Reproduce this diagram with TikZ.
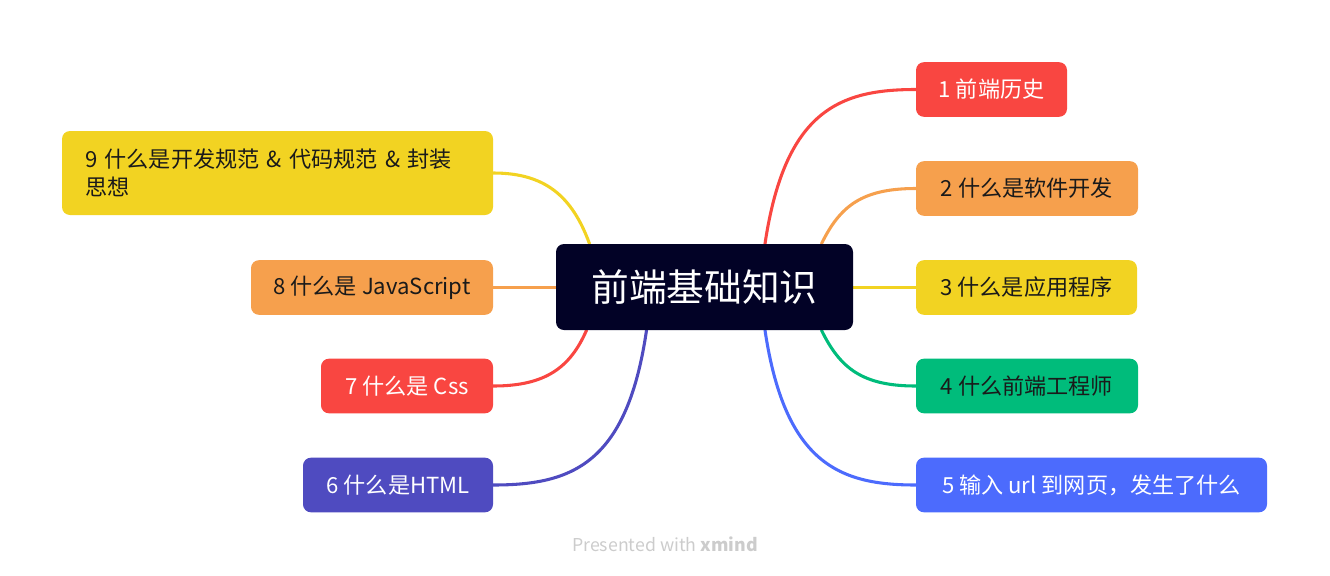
\documentclass[tikz,border=0pt]{standalone}
\usepackage{fontspec}
\setmainfont{Noto Sans CJK SC}
\usetikzlibrary{calc,backgrounds}
\definecolor{cnavy}{HTML}{020226}
\definecolor{cred}{HTML}{F94641}
\definecolor{corange}{HTML}{F6A04D}
\definecolor{cyellow}{HTML}{F2D322}
\definecolor{cgreen}{HTML}{00BC7B}
\definecolor{cblue}{HTML}{4C6BFD}
\definecolor{cindigo}{HTML}{4F4BC0}
\definecolor{cdark}{HTML}{1A1A1A}
\definecolor{cfoot}{HTML}{CCCCCC}
\begin{document}
\begin{tikzpicture}[x=0.75pt,y=-0.75pt,
  topic/.style={rectangle, rounded corners=6pt, inner sep=0pt, minimum height=41pt,
    font=\fontsize{16.6}{20}\selectfont},
  darktext/.style={text=cdark},
  lighttext/.style={text=white},
  link/.style={line width=2.3pt, line cap=round}]
\useasboundingbox (0,0) rectangle (1330,575);

% central topic
\node[rectangle, rounded corners=6pt, fill=cnavy, text=white, inner sep=0pt,
  minimum width=222.75pt, minimum height=64.5pt, font=\fontsize{28.3}{32}\selectfont]
  (c) at (704.5,287) {前端基础知识};

% right side
\node[topic, fill=cred, lighttext, minimum width=113.25pt] (t1) at (991.5,89.5) {1 前端历史};
\node[topic, fill=corange, darktext, minimum width=166.5pt] (t2) at (1027,188.5) {2 什么是软件开发};
\node[topic, fill=cyellow, darktext, minimum width=165.75pt] (t3) at (1026.5,287.5) {3 什么是应用程序};
\node[topic, fill=cgreen, darktext, minimum width=166.5pt] (t4) at (1027,386) {4 什么前端工程师};
\node[topic, fill=cblue, lighttext, minimum width=263.25pt] (t5) at (1091.5,485) {5 输入 url 到网页，发生了什么};

% left side
\node[topic, fill=cindigo, lighttext, minimum width=142.5pt] (t6) at (398,485) {6 什么是HTML};
\node[topic, fill=cred, lighttext, minimum width=129pt] (t7) at (407,386) {7 什么是 Css};
\node[topic, fill=corange, darktext, minimum width=181.5pt] (t8) at (372,287.5) {8 什么是 JavaScript};
\node[rectangle, rounded corners=6pt, fill=cyellow, darktext, inner xsep=17.25pt, inner ysep=0pt,
  text width=288.75pt, align=left, minimum height=63pt, font=\fontsize{16.6}{21}\selectfont]
  (t9) at (277.5,173) {9 什么是开发规范 \& 代码规范 \& 封装\\思想};

% connectors
\begin{scope}[on background layer]
\coordinate (s1) at ($(c.north)+(60.5,0)$);
\coordinate (s2) at ($(c.north)+(117,0)$);
\coordinate (s4) at ($(c.south)+(117,0)$);
\coordinate (s5) at ($(c.south)+(60.5,0)$);
\coordinate (s6) at ($(c.south)+(-58,0)$);
\coordinate (s7) at ($(c.south)+(-118,0)$);
\coordinate (s9) at ($(c.north)+(-115,0)$);
\draw[link, cred] (s1) .. controls (785,110) and (840,89.5) .. (t1.west);
\draw[link, corange] (s2) .. controls (840,206) and (862,188.5) .. (t2.west);
\draw[link, cyellow] (c.east |- t3.west) -- (t3.west);
\draw[link, cgreen] (s4) .. controls (840,368) and (862,386) .. (t4.west);
\draw[link, cblue] (s5) .. controls (785,464) and (840,485) .. (t5.west);
\draw[link, cindigo] (s6) .. controls (627,464) and (572,485) .. (t6.west -| t6.east);
\draw[link, cred] (s7) .. controls (570,368) and (545,386) .. (t7.east);
\draw[link, corange] (c.west |- t8.east) -- (t8.east);
\draw[link, cyellow] (s9) .. controls (572,196) and (545,173) .. (t9.east);
\end{scope}

% footer
\node[font=\fontsize{13.3}{15}\selectfont, text=cfoot] (ft) at (665,544) {Presented with \textbf{xmind}};
\end{tikzpicture}
\end{document}
